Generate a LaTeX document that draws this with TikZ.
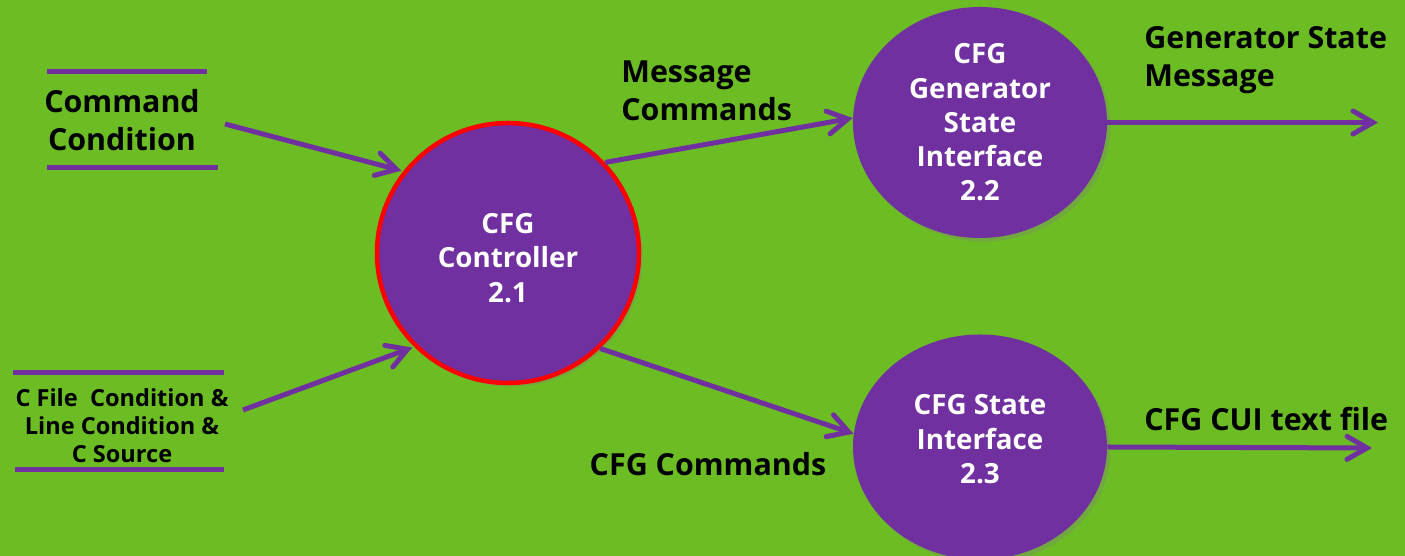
\documentclass[tikz,border=0pt]{standalone}
\usepackage{fontspec}
\setmainfont{Open Sans}
\usetikzlibrary{arrows.meta, positioning, shapes.geometric, shadows}

\definecolor{bggreen}{RGB}{108,188,36}
\definecolor{procpurple}{RGB}{112,48,160}

\begin{document}
\begin{tikzpicture}[
    every node/.style={font=\bfseries},
    process/.style={ellipse, fill=procpurple, text=white, align=center, inner sep=0pt,
        font=\bfseries\fontsize{15.8}{19.5}\selectfont,
        drop shadow={shadow xshift=0.07cm, shadow yshift=-0.07cm, opacity=0.3}},
    label/.style={align=center, inner sep=0pt, font=\bfseries\fontsize{17.3}{21.5}\selectfont},
    smalllabel/.style={align=center, inner sep=0pt, font=\bfseries\fontsize{13.4}{16}\selectfont},
    flow/.style={-{Straight Barb[length=0.4cm, width=0.46cm, line cap=round]}, procpurple, line width=0.1cm},
    rule/.style={procpurple, line width=0.1cm}
]

% background
\useasboundingbox (0,0) rectangle (28.1,11.12);
\fill[bggreen] (0,0) rectangle (28.1,11.12);

% ============ PROCESSES ============
\node[process, draw=red, line width=0.09cm, minimum width=5.24cm, minimum height=5.2cm] (ctrl) at (10.16, 6.06) {\rule{0pt}{0.6cm}CFG\\Controller\\2.1};
\node[process, minimum width=5.08cm, minimum height=4.62cm] (gen) at (19.6, 8.67) {CFG\\Generator\\State\\Interface\\2.2};
\node[process, minimum width=5.08cm, minimum height=4.5cm] (state) at (19.6, 2.18) {CFG State\\Interface\\2.3\rule[-0.32cm]{0pt}{0.32cm}};

% ============ EXTERNAL INPUTS ============
\node[label] (cmd) at (2.44, 8.72) {Command\\Condition};
\draw[rule] (0.94, 9.68) -- (4.14, 9.68);
\draw[rule] (0.94, 7.76) -- (4.36, 7.76);

\node[smalllabel] (cfile) at (2.44, 2.6) {C File~~Condition \&\\Line Condition \&\\C Source};
\draw[rule] (0.26, 3.66) -- (4.48, 3.66);
\draw[rule] (0.30, 1.72) -- (4.48, 1.72);

\coordinate (cmd_out) at (4.5, 8.64);
\coordinate (cfile_out) at (4.86, 2.92);

% ============ OUTPUTS ============
\coordinate (gen_out) at (27.56, 8.67);
\coordinate (state_out) at (27.44, 2.16);

% Flow labels
\node[label, align=left, anchor=west] (msg) at (12.42, 9.31) {Message\\Commands};
\node[label, anchor=north] (cfgcmd) at (14.16, 2.07) {CFG Commands};
\node[label, align=left, anchor=west] (genmsg) at (22.88, 9.92) {Generator State\\Message};
\node[label, anchor=west] (cuifile) at (22.88, 2.74) {CFG CUI text file};

% Arrows
\draw[flow, shorten >=0.04cm] (cmd_out) -- (ctrl.142);
\draw[flow, shorten >=0.04cm] (cfile_out) -- (ctrl.225);
\draw[flow] (ctrl.43) -- (gen.178);
\draw[flow] (ctrl.-46) -- (state.174);
\draw[flow] (gen.east) -- (gen_out);
\draw[flow] (state.east) -- (state_out);

\end{tikzpicture}
\end{document}
